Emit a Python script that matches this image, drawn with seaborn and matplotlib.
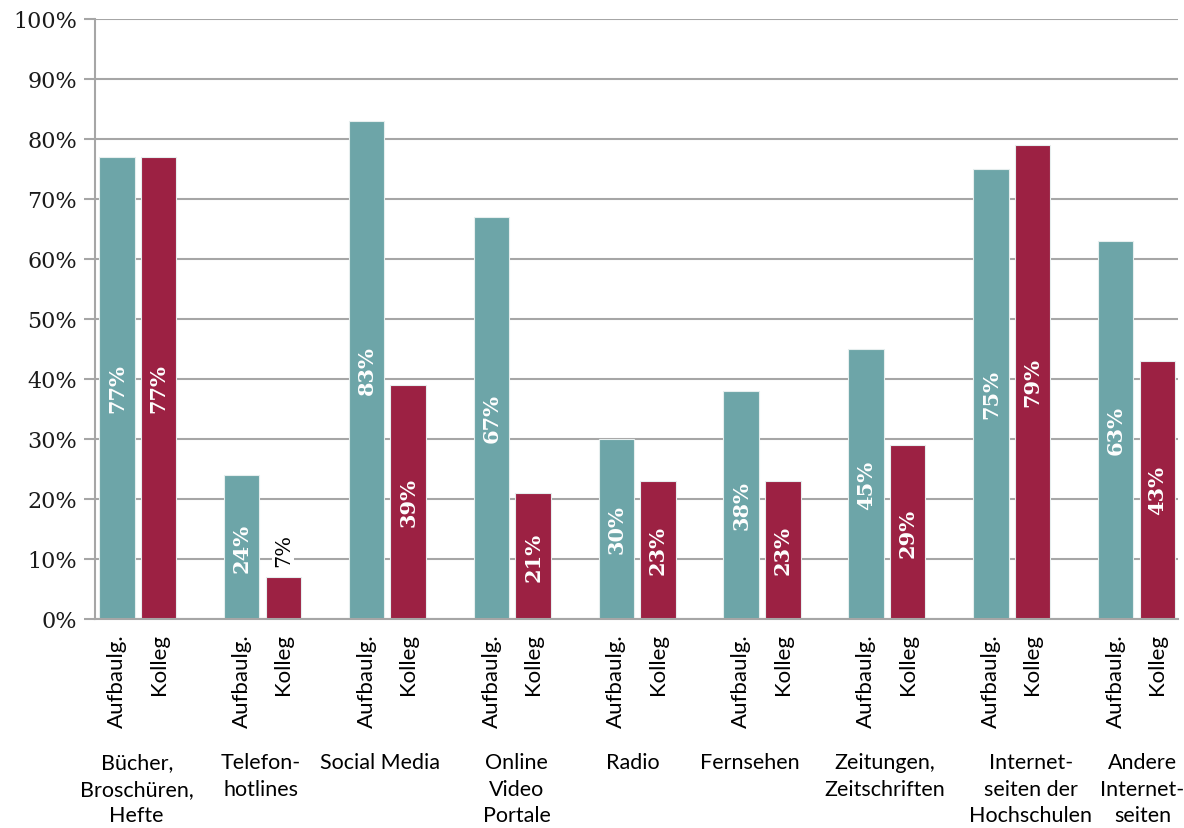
import matplotlib
matplotlib.use("Agg")
import matplotlib.pyplot as plt
import matplotlib.transforms as mtransforms
import seaborn as sns
import pandas as pd
import numpy as np

categories = ["Bücher,\nBroschüren,\nHefte", "Telefon-\nhotlines", "Social Media",
              "Online\nVideo\nPortale", "Radio", "Fernsehen", "Zeitungen,\nZeitschriften",
              "Internet-\nseiten der\nHochschulen", "Andere\nInternet-\nseiten"]
series = ["Aufbaulg.", "Kolleg"]
aufbaulg = [77, 24, 83, 67, 30, 38, 45, 75, 63]
kolleg = [77, 7, 39, 21, 23, 23, 29, 79, 43]
yticks = [0, 10, 20, 30, 40, 50, 60, 70, 80, 90, 100]

colors = ["#6da5a8", "#9c2143"]
# horizontal nudges (in px) of the category captions relative to the bar pair centre
label_nudge_px = [-1, -1.5, -7, 4.5, -4, -12, -2.5, 19, 6]

sns.set_theme(style="white")
plt.rcParams["font.family"] = ["Lato", "DejaVu Sans"]

df = pd.DataFrame({
    "cat": categories * 2,
    "series": [series[0]] * len(categories) + [series[1]] * len(categories),
    "value": aufbaulg + kolleg,
})

fig = plt.figure(figsize=(11.84, 8.29), dpi=100)
ax = fig.add_axes([95 / 1184, 1 - 620 / 829, (1178 - 95) / 1184, 600 / 829])

width = 0.6664
sns.barplot(data=df, x="cat", y="value", hue="series", order=categories,
            hue_order=series, palette=colors, width=width, gap=0.1477,
            dodge=True, ax=ax, legend=False, edgecolor="#e6eeee", linewidth=0.8,
            saturation=1)

ax.set_ylim(0, 100)
ax.set_xlim(-0.342, 8.332)
ax.set_yticks(yticks)
ax.set_yticklabels([f"{v}%" for v in yticks], family="DejaVu Serif", fontsize=16, color="#1a1a1a")
ax.yaxis.grid(True, color="#a6a6a6", linewidth=1.5)
ax.set_axisbelow(True)
for s in ["top", "right"]:
    ax.spines[s].set_visible(False)
for s in ["left", "bottom"]:
    ax.spines[s].set_color("#a6a6a6")
    ax.spines[s].set_linewidth(1.5)
ax.tick_params(axis="y", which="major", length=8, width=1.5, color="#a6a6a6", left=True, pad=5)

# sub tick labels per bar
off = width / 4
pos = []
labs = []
for i in range(len(categories)):
    pos += [i - off, i + off]
    labs += series
ax.set_xticks(pos)
ax.set_xticklabels(labs, rotation=90, fontsize=16, color="#000000", va="top", ha="center")
ax.tick_params(axis="x", length=0, pad=10)
ax.set_xlabel("")
ax.set_ylabel("")

# category labels
px_per_unit = (1178 - 95) / (8.332 + 0.342)
trans = mtransforms.blended_transform_factory(ax.transData, ax.transAxes)
for i, c in enumerate(categories):
    ax.text(i + label_nudge_px[i] / px_per_unit, -0.222, c, transform=trans, ha="center", va="top",
            fontsize=15.5, linespacing=1.4, color="#000000")

# value labels
for i in range(len(categories)):
    for j, vals in enumerate([aufbaulg, kolleg]):
        v = vals[i]
        x = i + (-off if j == 0 else off)
        if v < 15:
            ax.text(x, v + 4.5, f"{v}%", rotation=90, ha="center", va="center",
                    family="DejaVu Serif", fontsize=15, color="black",
                    bbox=dict(facecolor="white", edgecolor="none", pad=1))
        else:
            ax.text(x, v / 2, f"{v}%", rotation=90, ha="center", va="center",
                    family="DejaVu Serif", fontsize=15, fontweight="bold", color="white")

fig.savefig("out.png", dpi=100)
